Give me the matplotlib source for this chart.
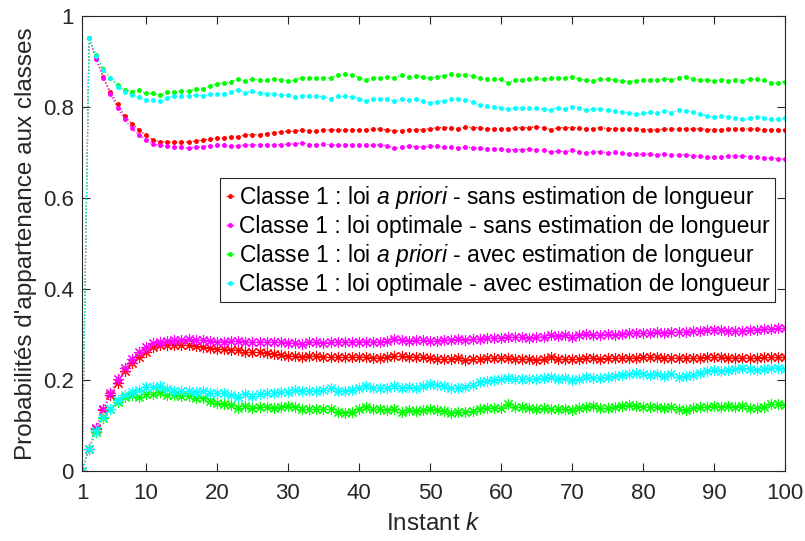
import numpy as np
import matplotlib
matplotlib.use("Agg")
import matplotlib.pyplot as plt

plt.rcParams['font.family'] = 'Liberation Sans'
plt.rcParams['mathtext.fontset'] = 'custom'
plt.rcParams['mathtext.rm'] = 'Liberation Sans'
plt.rcParams['mathtext.it'] = 'Liberation Sans:italic'

k = np.arange(1, 101)

# Classe 1 (upper curves)
red_c1 = [0,
    0.95, 0.906, 0.866, 0.833, 0.805, 0.779, 0.763, 0.749, 0.738, 0.727, 0.723, 0.723, 0.722, 0.722, 0.723, 0.725, 0.727,
    0.729, 0.731, 0.732, 0.733, 0.734, 0.738, 0.739, 0.739, 0.741, 0.743, 0.745, 0.746, 0.746, 0.749, 0.746, 0.747,
    0.749, 0.749, 0.749, 0.750, 0.749, 0.749, 0.749, 0.751, 0.751, 0.749, 0.747, 0.747, 0.750, 0.749, 0.750, 0.752, 0.754,
    0.754, 0.754, 0.752, 0.755, 0.754, 0.754, 0.752, 0.752, 0.751, 0.751, 0.754, 0.754, 0.754, 0.756, 0.754, 0.750, 0.754,
    0.754, 0.754, 0.754, 0.751, 0.752, 0.754, 0.752, 0.752, 0.751, 0.751, 0.751, 0.750, 0.750, 0.749, 0.751, 0.751,
    0.751, 0.752, 0.751, 0.752, 0.750, 0.750, 0.750, 0.751, 0.751, 0.751, 0.751, 0.751, 0.750, 0.750, 0.750, 0.750]
magenta_c1 = [0,
    0.95, 0.904, 0.862, 0.827, 0.797, 0.772, 0.753, 0.738, 0.727, 0.718, 0.715, 0.714, 0.711, 0.711, 0.709, 0.711, 0.712,
    0.714, 0.715, 0.715, 0.714, 0.714, 0.716, 0.716, 0.716, 0.717, 0.716, 0.717, 0.718, 0.718, 0.721, 0.717, 0.717,
    0.718, 0.717, 0.715, 0.716, 0.716, 0.715, 0.715, 0.716, 0.716, 0.714, 0.710, 0.711, 0.714, 0.712, 0.712, 0.713, 0.714,
    0.712, 0.711, 0.710, 0.711, 0.710, 0.709, 0.707, 0.707, 0.707, 0.705, 0.706, 0.706, 0.707, 0.705, 0.704, 0.700, 0.703,
    0.701, 0.704, 0.701, 0.698, 0.701, 0.701, 0.699, 0.700, 0.698, 0.696, 0.696, 0.696, 0.696, 0.694, 0.696, 0.694,
    0.694, 0.695, 0.692, 0.692, 0.689, 0.689, 0.689, 0.692, 0.692, 0.692, 0.690, 0.689, 0.687, 0.687, 0.686, 0.686]
green_c1 = [0,
    0.95, 0.913, 0.882, 0.864, 0.848, 0.837, 0.833, 0.837, 0.829, 0.829, 0.826, 0.832, 0.832, 0.835, 0.834, 0.838, 0.838,
    0.846, 0.850, 0.852, 0.855, 0.860, 0.856, 0.861, 0.858, 0.858, 0.860, 0.859, 0.857, 0.858, 0.864, 0.864, 0.862,
    0.864, 0.862, 0.870, 0.871, 0.870, 0.864, 0.859, 0.864, 0.862, 0.866, 0.864, 0.870, 0.865, 0.867, 0.865, 0.862, 0.866,
    0.868, 0.871, 0.870, 0.870, 0.868, 0.862, 0.860, 0.860, 0.860, 0.853, 0.859, 0.859, 0.861, 0.862, 0.861, 0.862, 0.864,
    0.862, 0.866, 0.860, 0.859, 0.857, 0.861, 0.860, 0.859, 0.857, 0.855, 0.857, 0.859, 0.859, 0.858, 0.861, 0.859,
    0.864, 0.866, 0.861, 0.859, 0.859, 0.857, 0.859, 0.857, 0.859, 0.857, 0.861, 0.860, 0.858, 0.853, 0.853, 0.855]
cyan_c1 = [0,
    0.95, 0.911, 0.880, 0.864, 0.844, 0.832, 0.826, 0.821, 0.815, 0.815, 0.812, 0.820, 0.823, 0.823, 0.824, 0.825, 0.824,
    0.828, 0.828, 0.828, 0.832, 0.837, 0.831, 0.835, 0.829, 0.828, 0.828, 0.825, 0.825, 0.822, 0.824, 0.824, 0.823,
    0.821, 0.818, 0.823, 0.823, 0.821, 0.818, 0.813, 0.817, 0.817, 0.816, 0.813, 0.817, 0.815, 0.816, 0.812, 0.809, 0.811,
    0.813, 0.817, 0.817, 0.815, 0.811, 0.804, 0.801, 0.800, 0.798, 0.795, 0.798, 0.797, 0.797, 0.797, 0.794, 0.793, 0.797,
    0.795, 0.799, 0.797, 0.793, 0.794, 0.795, 0.793, 0.791, 0.788, 0.786, 0.784, 0.786, 0.788, 0.786, 0.791, 0.787,
    0.792, 0.791, 0.788, 0.784, 0.780, 0.777, 0.780, 0.777, 0.775, 0.772, 0.776, 0.777, 0.776, 0.772, 0.773, 0.775]

# Classe 2 (lower curves)
red_c2 = [0,
    0.05, 0.094, 0.134, 0.167, 0.195, 0.221, 0.237, 0.251, 0.262, 0.273, 0.277, 0.277, 0.278, 0.278, 0.277, 0.275, 0.273,
    0.271, 0.269, 0.268, 0.267, 0.266, 0.262, 0.261, 0.261, 0.259, 0.257, 0.255, 0.254, 0.254, 0.251, 0.254, 0.253,
    0.251, 0.251, 0.251, 0.250, 0.251, 0.251, 0.251, 0.249, 0.249, 0.251, 0.253, 0.253, 0.250, 0.251, 0.250, 0.248, 0.246,
    0.246, 0.246, 0.248, 0.245, 0.246, 0.246, 0.248, 0.248, 0.249, 0.249, 0.246, 0.246, 0.246, 0.244, 0.246, 0.250, 0.246,
    0.246, 0.246, 0.246, 0.249, 0.248, 0.246, 0.248, 0.248, 0.249, 0.249, 0.249, 0.250, 0.250, 0.251, 0.249, 0.249,
    0.249, 0.248, 0.249, 0.248, 0.250, 0.250, 0.250, 0.249, 0.249, 0.249, 0.249, 0.249, 0.250, 0.250, 0.250, 0.250]
magenta_c2 = [0,
    0.05, 0.096, 0.138, 0.173, 0.203, 0.228, 0.247, 0.262, 0.273, 0.282, 0.285, 0.286, 0.289, 0.289, 0.291, 0.289, 0.288,
    0.286, 0.285, 0.285, 0.286, 0.286, 0.284, 0.284, 0.284, 0.283, 0.284, 0.283, 0.282, 0.282, 0.279, 0.283, 0.283,
    0.282, 0.283, 0.285, 0.284, 0.284, 0.285, 0.285, 0.284, 0.284, 0.286, 0.290, 0.289, 0.286, 0.288, 0.288, 0.287, 0.286,
    0.288, 0.289, 0.290, 0.289, 0.290, 0.291, 0.293, 0.293, 0.293, 0.295, 0.294, 0.294, 0.293, 0.295, 0.296, 0.300, 0.297,
    0.299, 0.296, 0.299, 0.302, 0.299, 0.299, 0.301, 0.300, 0.302, 0.304, 0.304, 0.304, 0.304, 0.306, 0.304, 0.306,
    0.306, 0.305, 0.308, 0.308, 0.311, 0.311, 0.311, 0.308, 0.308, 0.308, 0.310, 0.311, 0.313, 0.313, 0.314, 0.314]
green_c2 = [0,
    0.05, 0.087, 0.118, 0.136, 0.152, 0.163, 0.167, 0.163, 0.171, 0.171, 0.174, 0.168, 0.168, 0.165, 0.166, 0.162, 0.162,
    0.154, 0.150, 0.148, 0.145, 0.140, 0.144, 0.139, 0.142, 0.142, 0.140, 0.141, 0.143, 0.142, 0.136, 0.136, 0.138,
    0.136, 0.138, 0.130, 0.129, 0.130, 0.136, 0.141, 0.136, 0.138, 0.134, 0.136, 0.130, 0.135, 0.133, 0.135, 0.138, 0.134,
    0.132, 0.129, 0.130, 0.130, 0.132, 0.138, 0.140, 0.140, 0.140, 0.147, 0.141, 0.141, 0.139, 0.138, 0.139, 0.138, 0.136,
    0.138, 0.134, 0.140, 0.141, 0.143, 0.139, 0.140, 0.141, 0.143, 0.145, 0.143, 0.141, 0.141, 0.142, 0.139, 0.141,
    0.136, 0.134, 0.139, 0.141, 0.141, 0.143, 0.141, 0.143, 0.141, 0.143, 0.139, 0.140, 0.142, 0.147, 0.147, 0.145]
cyan_c2 = [0,
    0.05, 0.089, 0.120, 0.136, 0.156, 0.168, 0.174, 0.179, 0.185, 0.185, 0.188, 0.180, 0.177, 0.177, 0.176, 0.175, 0.176,
    0.172, 0.172, 0.172, 0.168, 0.163, 0.169, 0.165, 0.171, 0.172, 0.172, 0.175, 0.175, 0.178, 0.176, 0.176, 0.177,
    0.179, 0.182, 0.177, 0.177, 0.179, 0.182, 0.187, 0.183, 0.183, 0.184, 0.187, 0.183, 0.185, 0.184, 0.188, 0.191, 0.189,
    0.187, 0.183, 0.183, 0.185, 0.189, 0.196, 0.199, 0.200, 0.202, 0.205, 0.202, 0.203, 0.203, 0.203, 0.206, 0.207, 0.203,
    0.205, 0.201, 0.203, 0.207, 0.206, 0.205, 0.207, 0.209, 0.212, 0.214, 0.216, 0.214, 0.212, 0.214, 0.209, 0.213,
    0.208, 0.209, 0.212, 0.216, 0.220, 0.223, 0.220, 0.223, 0.225, 0.228, 0.224, 0.223, 0.224, 0.228, 0.227, 0.225]

labels = ["Classe 1 : loi $\\it{a\\ priori}$ - sans estimation de longueur",
          "Classe 1 : loi optimale - sans estimation de longueur",
          "Classe 1 : loi $\\it{a\\ priori}$ - avec estimation de longueur",
          "Classe 1 : loi optimale - avec estimation de longueur"]
colors = ['#FF0000', '#FF00FF', '#00FF00', '#00FFFF']

fig = plt.figure(figsize=(8.05, 5.41), dpi=100)
ax = fig.add_axes([0.1019, 0.1285, 0.8733, 0.8428])

upper = [red_c1, magenta_c1, green_c1, cyan_c1]
lower = [red_c2, magenta_c2, green_c2, cyan_c2]
for i in range(4):
    ax.plot(k, upper[i], linestyle=':', linewidth=0.9, color=colors[i],
            marker='.', markersize=5, label=labels[i])
asterisk = (8, 2, 0)
for i in range(4):
    ax.plot(k, lower[i], linestyle=':', linewidth=0.9, color=colors[i],
            marker=asterisk, markersize=8, markeredgewidth=0.8)

ax.set_xlim(1, 100)
ax.set_ylim(0, 1)
ax.set_xticks([1, 10, 20, 30, 40, 50, 60, 70, 80, 90, 100])
ax.set_yticks([0, 0.2, 0.4, 0.6, 0.8, 1])
ax.set_yticklabels(['0', '0.2', '0.4', '0.6', '0.8', '1'])
ax.tick_params(direction='in', top=True, right=True, labelsize=16,
               colors='#262626', length=6, width=0.8)
ax.tick_params(axis='x', pad=8)
ax.tick_params(axis='y', pad=6)
for s in ax.spines.values():
    s.set_color('#262626')
    s.set_linewidth(0.8)

ax.set_xlabel("Instant $\\it{k}$", fontsize=17.5, color='#262626', labelpad=7)
ax.set_ylabel("Probabilités d'appartenance aux classes", fontsize=17.5, color='#262626', labelpad=4)

leg = ax.legend(loc='upper right', bbox_to_anchor=(0.986, 0.644), borderaxespad=0,
                fontsize=16.5, handlelength=0.35, handletextpad=0.2, labelspacing=0.18,
                fancybox=False, framealpha=1, edgecolor='#262626', borderpad=0.25)
leg.get_frame().set_linewidth(0.8)

plt.savefig("out.png", dpi=100)
plt.close("all")
